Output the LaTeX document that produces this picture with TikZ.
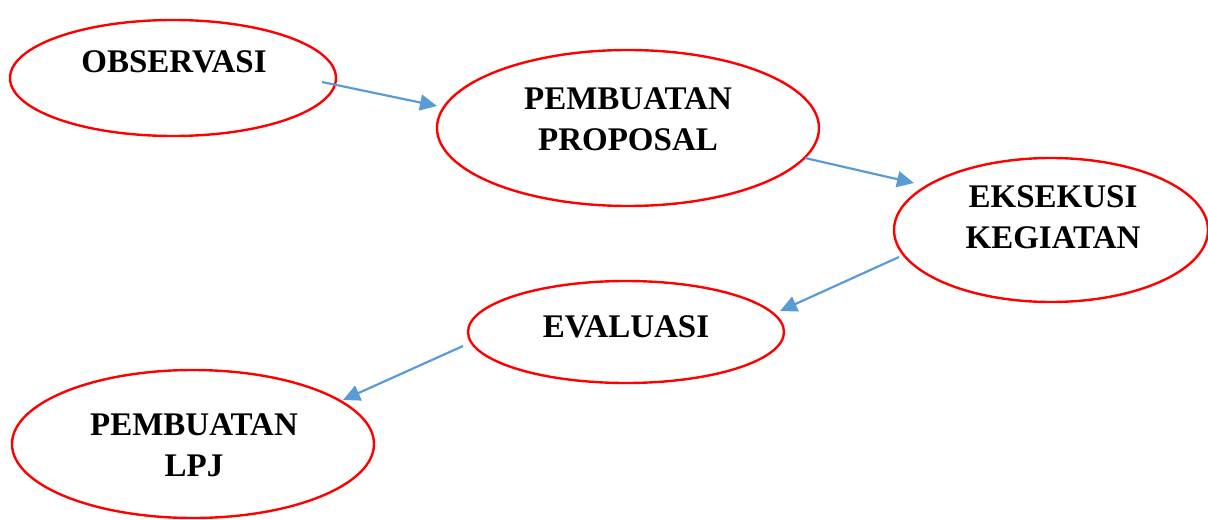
\documentclass[tikz,border=0pt]{standalone}
\usepackage{fontspec}
\setmainfont{Liberation Serif}
\usetikzlibrary{arrows.meta,shapes.geometric}
\definecolor{arrowblue}{RGB}{91,155,213}
\tikzset{
	stage/.style={draw=red, line width=1.2pt, ellipse, inner sep=0pt},
	stagetext/.style={align=center, font=\bfseries\fontsize{16.5}{20.5}\selectfont},
	flow/.style={draw=arrowblue, line width=1.1pt, -{Triangle[length=8.5pt,width=8pt]}}
}
\begin{document}
\begin{tikzpicture}[x=0.5pt, y=-0.5pt]
				\useasboundingbox (0,0) rectangle (1208,519);
				% ellipses
				\node[stage, minimum width=163pt, minimum height=58pt] (obs) at (173,78) {};
				\node[stage, minimum width=191pt, minimum height=78pt] (prop) at (628,128) {};
				\node[stage, minimum width=157pt, minimum height=72pt] (eks) at (1051,230) {};
				\node[stage, minimum width=158pt, minimum height=51pt] (eval) at (626,332) {};
				\node[stage, minimum width=181pt, minimum height=74pt] (lpj) at (193,444) {};
				% texts
				\node[stagetext] (obs-t) at (174,62) {OBSERVASI};
				\node[stagetext] (prop-t) at (628,119) {PEMBUATAN\\PROPOSAL};
				\node[stagetext] (eks-t) at (1053,217) {EKSEKUSI\\KEGIATAN};
				\node[stagetext] (eval-t) at (626,327) {EVALUASI};
				\node[stagetext] (lpj-t) at (194,445) {PEMBUATAN\\LPJ};
				% arrow ends
				\coordinate (a1s) at (322,82);
				\coordinate (a1e) at (437,106);
				\coordinate (a2s) at (805,158);
				\coordinate (a2e) at (914,183);
				\coordinate (a3s) at (899,257);
				\coordinate (a3e) at (780,311);
				\coordinate (a4s) at (463,346);
				\coordinate (a4e) at (343,400);
				\draw[flow] (a1s) -- (a1e);
				\draw[flow] (a2s) -- (a2e);
				\draw[flow] (a3s) -- (a3e);
				\draw[flow] (a4s) -- (a4e);
\end{tikzpicture}
\end{document}
